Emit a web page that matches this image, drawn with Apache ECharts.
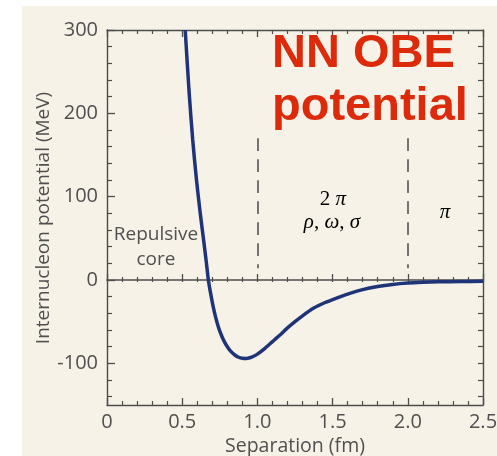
<!DOCTYPE html>
<html><head><meta charset="utf-8">
<script src="https://cdn.jsdelivr.net/npm/echarts@6/dist/echarts.min.js"></script>
<style>html,body{margin:0;padding:0;background:#fff;}#c{width:497px;height:456px;}</style>
</head><body><div id="c"></div>
<script>
// Data
const separation = [0.52, 0.545, 0.57, 0.595, 0.62, 0.645, 0.66, 0.674, 0.69, 0.705, 0.72, 0.74, 0.76, 0.78, 0.80, 0.825, 0.85, 0.875, 0.9, 0.925, 0.95, 0.975, 1.0, 1.05, 1.1, 1.15, 1.2, 1.25, 1.3, 1.372, 1.45, 1.5, 1.6, 1.7, 1.8, 1.9, 2.0, 2.1, 2.2, 2.35, 2.5];
const potential  = [300, 228, 168, 120, 80, 44, 22, 0, -17, -31, -43, -56, -66, -74, -80, -86, -90, -92.7, -94, -94.2, -93.3, -91.5, -89, -82, -74, -66, -57.5, -50, -43, -34, -27, -23.5, -17, -11.5, -7.8, -5.3, -3.7, -2.8, -2.2, -1.8, -1.5];
const yMajor = [-100, 0, 100, 200, 300];
const yMinor = [-140, -120, -80, -60, -40, -20, 20, 40, 60, 80, 120, 140, 160, 180, 220, 240, 260, 280];
const yAll = [-140, -120, -100, -80, -60, -40, -20, 0, 20, 40, 60, 80, 100, 120, 140, 160, 180, 200, 220, 240, 260, 280];
const dividers = [1.0, 2.0];
const dividerRange = [170, 14];
const xName = 'Separation (fm)';
const yName = 'Internucleon potential (MeV)';
const regionLabels = ['Repulsive', 'core'];

const chart = echarts.init(document.getElementById('c'), null, {renderer: 'canvas'});
const axisColor = '#4d4d4d';
const txtColor = '#505050';
const lblFont = {color: txtColor, fontFamily: 'Open Sans', fontSize: 20};

function xAx(extra) {
  return Object.assign({
    type: 'value', min: 0, max: 2.5, interval: 0.5,
    axisLine: {show: true, onZero: false, lineStyle: {color: axisColor, width: 1.4}},
    axisTick: {show: true, inside: true, length: 7, lineStyle: {color: axisColor, width: 1.3}},
    minorTick: {show: true, splitNumber: 5, length: 4, lineStyle: {color: axisColor, width: 1.2}},
    axisLabel: {show: false},
    splitLine: {show: false}
  }, extra);
}
function yAx(extra) {
  return Object.assign({
    type: 'value', min: -150, max: 300,
    axisLine: {show: true, onZero: false, lineStyle: {color: axisColor, width: 1.4}},
    axisTick: {show: true, inside: true, length: 8, lineStyle: {color: axisColor, width: 1.3}},
    axisLabel: {show: false},
    splitLine: {show: false}
  }, extra);
}

const divLines = dividers.map(x => [{coord: [x, dividerRange[0]]}, {coord: [x, dividerRange[1]]}]);
const rich = {
  r: {fontFamily: 'Liberation Serif', fontSize: 21, color: '#2e2e2e'},
  i: {fontFamily: 'Liberation Serif', fontStyle: 'italic', fontSize: 21, color: '#2e2e2e'}
};

chart.setOption({
  animation: false,
  backgroundColor: 'transparent',
  graphic: [
    {type: 'rect', z: -10, shape: {x: 22, y: 6, width: 475, height: 450}, style: {fill: '#f6f2e7'}},
    {type: 'text', x: 44, y: 218, rotation: Math.PI / 2, style: {text: yName, fill: txtColor, font: '19px "Open Sans"', align: 'center', verticalAlign: 'middle'}},
    {type: 'text', x: 156, y: 235, style: {text: regionLabels[0], fill: txtColor, font: '19px "Open Sans"', align: 'center', verticalAlign: 'middle'}},
    {type: 'text', x: 156, y: 260, style: {text: regionLabels[1], fill: txtColor, font: '19px "Open Sans"', align: 'center', verticalAlign: 'middle'}},
    {type: 'text', x: 333, y: 199, style: {text: '{r|2 }{i|π}', align: 'center', verticalAlign: 'middle', rich: rich}},
    {type: 'text', x: 332, y: 222, style: {text: '{i|ρ}{r|, }{i|ω}{r|, }{i|σ}', align: 'center', verticalAlign: 'middle', rich: rich}},
    {type: 'text', x: 445, y: 212, style: {text: '{i|π}', align: 'center', verticalAlign: 'middle', rich: rich}},
    {type: 'text', x: 272, y: 54, z: 100, style: {text: 'NN OBE', fill: '#dd2a0b', font: 'bold 47px "Liberation Sans"', align: 'left', verticalAlign: 'middle'}},
    {type: 'text', x: 272, y: 107, z: 100, style: {text: 'potential', fill: '#dd2a0b', font: 'bold 47px "Liberation Sans"', align: 'left', verticalAlign: 'middle'}}
  ],
  grid: {left: 107, right: 14, top: 30, bottom: 51, containLabel: false, outerBoundsMode: 'none'},
  xAxis: [
    xAx({position: 'bottom', name: xName, nameLocation: 'middle', nameGap: 31,
      nameTextStyle: {color: txtColor, fontFamily: 'Open Sans', fontSize: 19.5},
      axisLabel: Object.assign({show: true, margin: 7, formatter: v => v === 0 ? '0' : v.toFixed(1)}, lblFont)}),
    xAx({position: 'top'}),
    xAx({position: 'bottom', axisLine: {show: true, onZero: true, lineStyle: {color: axisColor, width: 1.5}},
      axisTick: {show: true, inside: true, length: 6, lineStyle: {color: axisColor, width: 1.3}},
      minorTick: {show: true, splitNumber: 5, length: 3, lineStyle: {color: axisColor, width: 1.2}}}),
    xAx({position: 'bottom', axisLine: {show: false, onZero: true},
      axisTick: {show: true, inside: false, length: 2, lineStyle: {color: axisColor, width: 1.3}},
      minorTick: {show: true, splitNumber: 5, length: 2, lineStyle: {color: axisColor, width: 1.2}}})
  ],
  yAxis: [
    yAx({position: 'left', axisTick: {show: true, inside: true, length: 8, customValues: yMajor, lineStyle: {color: axisColor, width: 1.3}},
      axisLabel: Object.assign({show: true, margin: 9, customValues: yMajor}, lblFont)}),
    yAx({position: 'left', axisLine: {show: false}, axisTick: {show: true, inside: true, length: 5, customValues: yMinor, lineStyle: {color: axisColor, width: 1.2}}}),
    yAx({position: 'right', axisTick: {show: true, inside: true, length: 5, customValues: yAll, lineStyle: {color: axisColor, width: 1.2}}})
  ],
  series: [{
    type: 'line', xAxisIndex: 0, yAxisIndex: 0,
    data: separation.map((x, i) => [x, potential[i]]),
    smooth: 0.25, showSymbol: false, clip: true,
    lineStyle: {color: '#1f3478', width: 3.5},
    markLine: {silent: true, symbol: 'none', label: {show: false},
      lineStyle: {color: '#666', type: [12.7, 8.3], width: 1.8}, data: divLines}
  }]
});
</script></body></html>
